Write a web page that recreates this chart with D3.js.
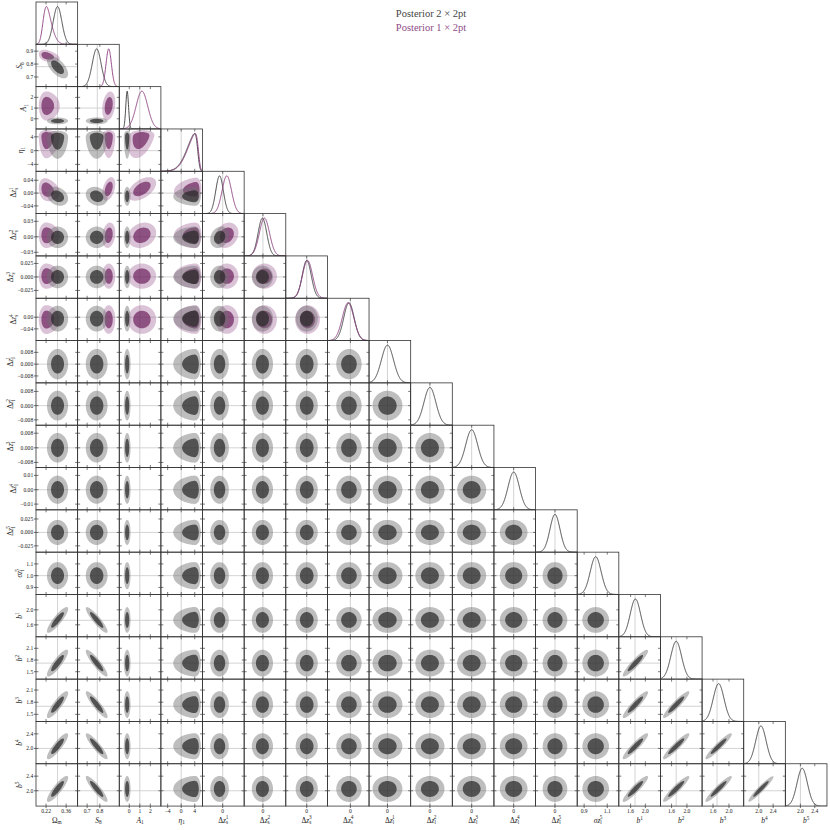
<!DOCTYPE html>
<html>
<head>
<meta charset="utf-8">
<script src="https://cdn.jsdelivr.net/npm/d3@7"></script>
<style>
  body { margin: 0; background: #fff; }
  svg text { font-family: "Liberation Serif", "DejaVu Serif", serif; fill: #222; }
</style>
</head>
<body>
<svg id="chart" width="830" height="830"></svg>
<script>
// parameter labels: [upright prefix, italic part, subscript, superscript]
const labels = [
  ["Ω", "", "m", ""], ["", "S", "8", ""], ["", "A", "1", ""], ["", "η", "1", ""],
  ["Δ", "z", "s", "1"], ["Δ", "z", "s", "2"], ["Δ", "z", "s", "3"], ["Δ", "z", "s", "4"],
  ["Δ", "z", "l", "1"], ["Δ", "z", "l", "2"], ["Δ", "z", "l", "3"], ["Δ", "z", "l", "4"], ["Δ", "z", "l", "5"],
  ["", "σz", "l", "5"],
  ["", "b", "", "1"], ["", "b", "", "2"], ["", "b", "", "3"], ["", "b", "", "4"], ["", "b", "", "5"]
];

// axis ranges
const lo = [0.15, 0.625, -0.95, -6.0, -0.064, -0.037, -0.0395, -0.08, -0.0127, -0.011, -0.0108, -0.014, -0.0367, 0.84, 1.28, 1.31, 1.325, 1.58, 1.58];
const hi = [0.44, 0.953, 3.0, 6.3, 0.068, 0.045, 0.039, 0.065, 0.016, 0.0128, 0.0124, 0.0155, 0.042, 1.2, 2.41, 2.395, 2.37, 2.74, 2.74];

// tick labels (bottom axis and left axis)
const xTickText = [
  ["0.22", "0.36"], ["0.7", "0.8"], ["0", "1", "2"], ["−4", "0", "4"],
  ["0"], ["0"], ["0"], ["0"], ["0"], ["0"], ["0"], ["0"], ["0"],
  ["0.9", "1.1"], ["1.6", "2.0"], ["1.6", "2.0"], ["1.6", "2.0"], ["2.0", "2.4"], ["2.0", "2.4"]
];
const yTickText = [
  [], ["0.7", "0.8", "0.9"], ["0", "1", "2"], ["−4", "0", "4"],
  ["−0.04", "0.00", "0.04"], ["−0.03", "0.00", "0.03"], ["−0.025", "0.000", "0.025"], ["−0.04", "0.00"],
  ["−0.008", "0.000", "0.008"], ["−0.008", "0.000", "0.008"], ["−0.008", "0.000", "0.008"],
  ["−0.01", "0.00", "0.01"], ["−0.025", "0.000", "0.025"],
  ["0.9", "1.0", "1.1"], ["1.6", "2.0"], ["1.5", "1.8", "2.1"], ["1.5", "1.8", "2.1"], ["2.0", "2.4"], ["2.0", "2.4"]
];

// reference (fiducial) marker lines
const markers = [0.30, 0.78, 1.0, 0, 0, 0, 0, 0, 0, 0, 0, 0, 0, 1.0, 1.72, 1.72, 1.70, 2.0, 2.0];

const legendText = ["Posterior 2 × 2pt", "Posterior 1 × 2pt"];

// Posterior 2 x 2pt (grey): location, scale, skewness
const grayLoc   = [0.30, 0.775, -0.2, 4.9, -0.010, -0.001, 0.0, -0.005, 0, 0, 0, 0, 0, 1.0, 1.73, 1.72, 1.74, 2.06, 2.05];
const grayScale = [0.03, 0.035, 0.13, 2.9, 0.012, 0.0085, 0.0085, 0.018, 0.0042, 0.0034, 0.0033, 0.004, 0.0095, 0.047, 0.14, 0.14, 0.135, 0.145, 0.145];
const graySkew  = [0, 0, 0, -6, 0, 0, 0, 0, 0, 0, 0, 0, 0, 0, 0, 0, 0, 0, 0];
const grayCorr = [
  [0, 1, -0.6], [0, 4, -0.25], [1, 4, -0.2], [4, 5, 0.2],
  [0, 14, 0.87], [0, 15, 0.87], [0, 16, 0.87], [0, 17, 0.87], [0, 18, 0.87],
  [1, 14, -0.9], [1, 15, -0.9], [1, 16, -0.9], [1, 17, -0.9], [1, 18, -0.9],
  [14, 15, 0.92], [14, 16, 0.92], [14, 17, 0.92], [14, 18, 0.92],
  [15, 16, 0.93], [15, 17, 0.93], [15, 18, 0.93],
  [16, 17, 0.94], [16, 18, 0.94], [17, 18, 0.95]
];

// Posterior 1 x 2pt (purple): first eight parameters only
const purpleLoc   = [0.20, 0.87, 1.2, 5.1, 0.013, 0.003, 0.0015, -0.008];
const purpleScale = [0.045, 0.021, 0.55, 2.9, 0.015, 0.010, 0.0095, 0.02];
const purpleSkew  = [2.5, 0, 0, -6, 0, 0, 0, 0];
const purpleCorr = [
  [0, 1, -0.5], [1, 2, 0.25], [2, 3, 0.4], [0, 4, -0.3], [1, 4, 0.4],
  [2, 4, 0.5], [1, 5, 0.2], [2, 5, 0.2], [4, 5, 0.2], [3, 4, 0.2]
];

const svg = d3.select('#chart');
const N = labels.length;
const gridLeft = 36, gridTop = 2, cellW = 41.63, cellH = 42.32;

const xs = d3.range(N).map(k => d3.scaleLinear().domain([lo[k], hi[k]]).range([gridLeft + k * cellW, gridLeft + (k + 1) * cellW]));
const ys = d3.range(N).map(k => d3.scaleLinear().domain([lo[k], hi[k]]).range([gridTop + (k + 1) * cellH, gridTop + k * cellH]));

const series = [
  {loc: purpleLoc, scale: purpleScale, skew: purpleSkew, corr: purpleCorr, n: purpleLoc.length,
   outer: 'rgba(150,80,140,0.35)', inner: 'rgba(100,20,85,0.65)', line: '#8a3a7e'},
  {loc: grayLoc, scale: grayScale, skew: graySkew, corr: grayCorr, n: grayLoc.length,
   outer: 'rgba(110,110,110,0.45)', inner: 'rgba(40,40,40,0.72)', line: '#3a3a3a'}
];

function erf(x) {
  const s = Math.sign(x); x = Math.abs(x);
  const t = 1 / (1 + 0.3275911 * x);
  const y = 1 - (((((1.061405429 * t - 1.453152027) * t) + 1.421413741) * t - 0.284496736) * t + 0.254829592) * t * Math.exp(-x * x);
  return s * y;
}
const Phi = z => 0.5 * (1 + erf(z / Math.SQRT2));
const dens1 = (z, a) => Math.exp(-0.5 * z * z) * Phi(a * z);
const num = s => parseFloat(s.replace('−', '-'));

function corrOf(s, i, j) {
  const e = s.corr.find(d => (d[0] === i && d[1] === j) || (d[0] === j && d[1] === i));
  return e ? e[2] : 0;
}

const G = 72;
function pairPaths(s, i, j) {
  const ax = s.loc[i] - 5 * s.scale[i], dx = 10 * s.scale[i] / (G - 1);
  const ay = s.loc[j] - 5 * s.scale[j], dy = 10 * s.scale[j] / (G - 1);
  const rho = corrOf(s, i, j);
  const v = new Float64Array(G * G);
  for (let b = 0; b < G; b++) {
    const zy = (ay + b * dy - s.loc[j]) / s.scale[j];
    const py = Phi(s.skew[j] * zy);
    for (let a = 0; a < G; a++) {
      const zx = (ax + a * dx - s.loc[i]) / s.scale[i];
      const q = (zx * zx - 2 * rho * zx * zy + zy * zy) / (1 - rho * rho);
      v[b * G + a] = Math.exp(-0.5 * q) * Phi(s.skew[i] * zx) * py;
    }
  }
  const sorted = Array.from(v).sort((p, q) => q - p);
  const total = d3.sum(sorted);
  let acc = 0, t68 = 0, t95 = 0;
  for (const val of sorted) {
    acc += val;
    if (!t68 && acc >= 0.68 * total) t68 = val;
    if (acc >= 0.95 * total) { t95 = val; break; }
  }
  const polys = d3.contours().size([G, G]).thresholds([t95, t68])(v);
  const path = d3.geoPath(d3.geoTransform({
    point(px, py) { this.stream.point(xs[i](ax + (px - 0.5) * dx), ys[j](ay + (py - 0.5) * dy)); }
  }));
  return polys.map(p => path(p));
}

const defs = svg.append('defs');
const panels = svg.append('g');
const markStyle = l => l.attr('stroke', '#c8c8c8').attr('stroke-width', 0.8);

for (let r = 0; r < N; r++) {
  for (let c = 0; c <= r; c++) {
    const x0 = gridLeft + c * cellW, y0 = gridTop + r * cellH;
    const id = `clip-${r}-${c}`;
    defs.append('clipPath').attr('id', id)
      .append('rect').attr('x', x0).attr('y', y0).attr('width', cellW).attr('height', cellH);
    const g = panels.append('g').attr('clip-path', `url(#${id})`);

    // marker lines go underneath
    g.append('line').attr('x1', xs[c](markers[c])).attr('x2', xs[c](markers[c]))
      .attr('y1', y0).attr('y2', y0 + cellH).call(markStyle);
    if (r !== c) {
      g.append('line').attr('y1', ys[r](markers[r])).attr('y2', ys[r](markers[r]))
        .attr('x1', x0).attr('x2', x0 + cellW).call(markStyle);
    }

    if (r === c) {
      const yd = d3.scaleLinear().domain([0, 1.12]).range([y0 + cellH, y0]);
      const pts = d3.range(0, 241).map(t => lo[c] + (hi[c] - lo[c]) * t / 240);
      series.slice().reverse().filter(s => c < s.n).forEach(s => {
        const f = x => dens1((x - s.loc[c]) / s.scale[c], s.skew[c]);
        const m = d3.max(d3.range(0, 601), t => f(s.loc[c] + s.scale[c] * (-5 + t / 60)));
        g.append('path')
          .attr('d', d3.line().x(x => xs[c](x)).y(x => yd(f(x) / m))(pts))
          .attr('fill', 'none').attr('stroke', s.line).attr('stroke-width', 0.9);
      });
    } else {
      series.filter(s => c < s.n && r < s.n).forEach(s => {
        const [outer, inner] = pairPaths(s, c, r);
        g.append('path').attr('d', outer).attr('fill', s.outer);
        g.append('path').attr('d', inner).attr('fill', s.inner);
      });
    }

    // inward ticks
    const tk = panels.append('g').attr('stroke', '#444').attr('stroke-width', 0.7);
    xTickText[c].forEach(t => {
      const x = xs[c](num(t));
      tk.append('line').attr('x1', x).attr('x2', x).attr('y1', y0).attr('y2', y0 + 2.5);
      tk.append('line').attr('x1', x).attr('x2', x).attr('y1', y0 + cellH).attr('y2', y0 + cellH - 2.5);
    });
    if (r !== c) {
      yTickText[r].forEach(t => {
        const y = ys[r](num(t));
        tk.append('line').attr('x1', x0).attr('x2', x0 + 2.5).attr('y1', y).attr('y2', y);
        tk.append('line').attr('x1', x0 + cellW).attr('x2', x0 + cellW - 2.5).attr('y1', y).attr('y2', y);
      });
    }
    panels.append('rect').attr('x', x0).attr('y', y0).attr('width', cellW).attr('height', cellH)
      .attr('fill', 'none').attr('stroke', '#333').attr('stroke-width', 0.8);
  }
}

function fillLabel(t, lab, fs) {
  const [pre, it, sub, sup] = lab;
  if (pre) t.append('tspan').text(pre);
  if (it) t.append('tspan').attr('font-style', 'italic').text(it);
  if (sub) t.append('tspan').attr('font-size', fs * 0.7).attr('dy', fs * 0.25).text(sub);
  if (sup) t.append('tspan').attr('font-size', fs * 0.7)
    .attr('dx', sub ? -fs * 0.7 * 0.42 : 0).attr('dy', sub ? -fs * 0.7 : -fs * 0.4).text(sup);
}

// bottom axis
const gridBottom = gridTop + N * cellH;
const axes = svg.append('g');
for (let c = 0; c < N; c++) {
  xTickText[c].forEach(t => {
    const x = xs[c](num(t));
    axes.append('line').attr('x1', x).attr('x2', x).attr('y1', gridBottom).attr('y2', gridBottom + 2)
      .attr('stroke', '#333').attr('stroke-width', 0.7);
    axes.append('text').attr('x', x).attr('y', gridBottom + 7.2).attr('text-anchor', 'middle')
      .attr('font-size', 5.6).text(t);
  });
  const lt = axes.append('text').attr('x', gridLeft + (c + 0.5) * cellW).attr('y', gridBottom + 16.5)
    .attr('text-anchor', 'middle').attr('font-size', 7.5);
  fillLabel(lt, labels[c], 7.5);
}

// left axis
for (let r = 1; r < N; r++) {
  let maxW = 0;
  yTickText[r].forEach(t => {
    const y = ys[r](num(t));
    axes.append('line').attr('x1', gridLeft - 2).attr('x2', gridLeft).attr('y1', y).attr('y2', y)
      .attr('stroke', '#333').attr('stroke-width', 0.7);
    const tx = axes.append('text').attr('x', gridLeft - 2.8).attr('y', y + 1.9).attr('text-anchor', 'end')
      .attr('font-size', 5.6).text(t);
    maxW = Math.max(maxW, tx.node().getComputedTextLength());
  });
  const lx = gridLeft - 2.8 - maxW - 4, ly = gridTop + (r + 0.5) * cellH;
  const lt = axes.append('text').attr('x', lx).attr('y', ly).attr('text-anchor', 'middle')
    .attr('font-size', 7.5).attr('transform', `rotate(-90,${lx},${ly})`);
  fillLabel(lt, labels[r], 7.5);
}

// legend
const legColors = ['#444', '#8e4a85'];
legendText.forEach((t, k) => {
  svg.append('text').attr('x', 431).attr('y', 16.5 + k * 14.5).attr('text-anchor', 'middle')
    .attr('font-size', 10.5).style('fill', legColors[k]).text(t);
});
</script>
</body>
</html>
